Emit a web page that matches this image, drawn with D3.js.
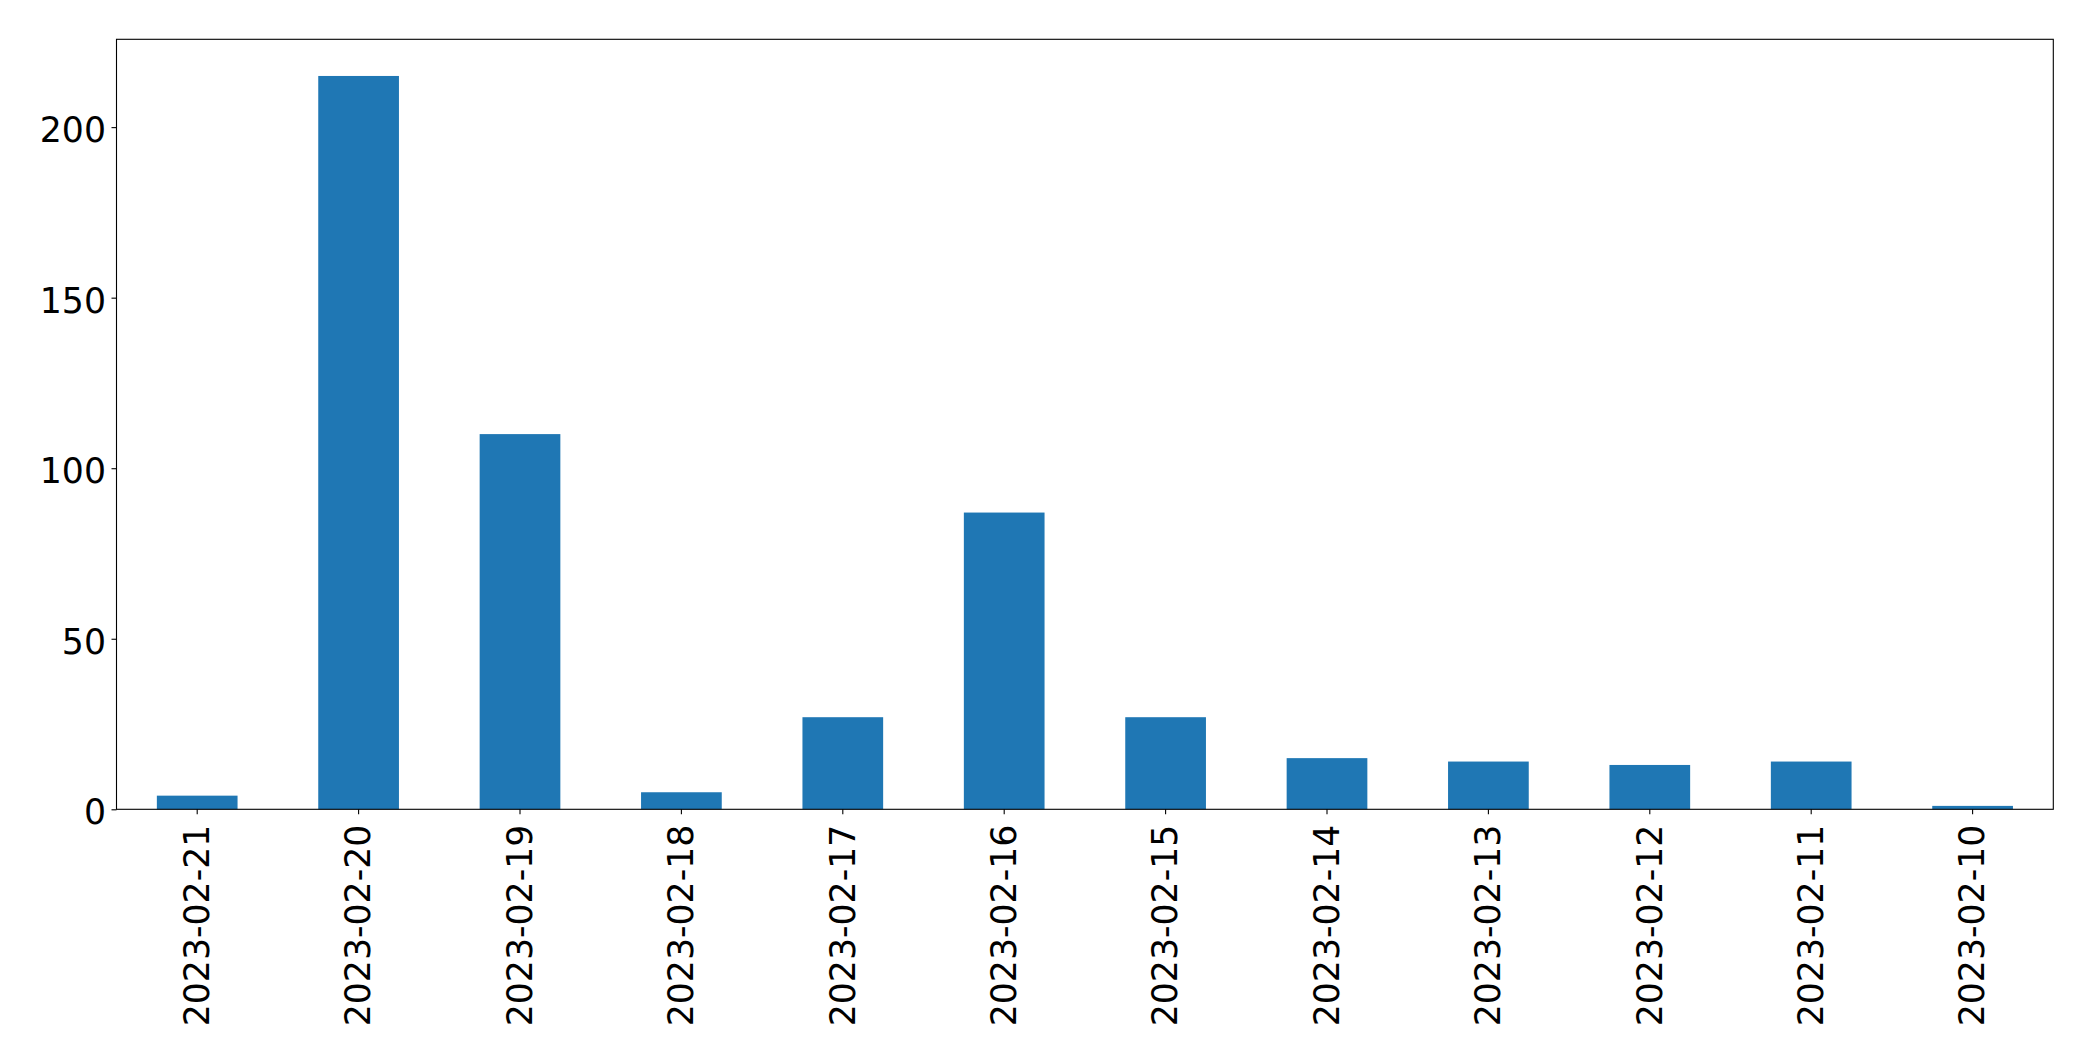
<!DOCTYPE html>
<html>
<head>
<meta charset="utf-8">
<script src="https://cdn.jsdelivr.net/npm/d3@7"></script>
<style>
html,body{margin:0;padding:0;background:#fff;}
svg{display:block;}
text{font-family:"DejaVu Sans",sans-serif;fill:#000;}
</style>
</head>
<body>
<svg id="chart" width="2093" height="1061"></svg>
<script>
const categories = ["2023-02-21","2023-02-20","2023-02-19","2023-02-18","2023-02-17","2023-02-16","2023-02-15","2023-02-14","2023-02-13","2023-02-12","2023-02-11","2023-02-10"];
const values = [4, 215, 110, 5, 27, 87, 27, 15, 14, 13, 14, 1];
const yTicks = [0, 50, 100, 150, 200];

const W = 2093, H = 1061;
const m = {left: 116.5, top: 39.3, right: W - 2053.3, bottom: H - 809.3};
const iw = W - m.left - m.right, ih = H - m.top - m.bottom;
const fs = 34.7;

const svg = d3.select("#chart");
const g = svg.append("g").attr("transform", `translate(${m.left},${m.top})`);

const x = d3.scaleBand().domain(categories).range([0, iw]).paddingInner(0.5).paddingOuter(0.25);
const y = d3.scaleLinear().domain([0, d3.max(values) * 1.05]).range([ih, 0]);

g.selectAll("rect.bar").data(values).join("rect")
  .attr("class", "bar")
  .attr("x", (d, i) => x(categories[i]))
  .attr("width", x.bandwidth())
  .attr("y", d => y(d))
  .attr("height", d => y(0) - y(d))
  .attr("fill", "#1f77b4");

const xAxis = g.append("g").attr("transform", `translate(0,${ih})`)
  .call(d3.axisBottom(x).tickSize(5).tickPadding(5));
xAxis.select(".domain").remove();
xAxis.selectAll(".tick line").attr("stroke", "#000").attr("stroke-width", 1.1);
xAxis.selectAll(".tick text")
  .attr("font-size", fs)
  .attr("font-family", "DejaVu Sans")
  .attr("text-anchor", "end")
  .attr("transform", "rotate(-90)")
  .attr("x", -15.4)
  .attr("y", 0)
  .attr("dy", "0.34em");

const yAxis = g.append("g")
  .call(d3.axisLeft(y).tickValues(yTicks).tickSize(5).tickPadding(5));
yAxis.select(".domain").remove();
yAxis.selectAll(".tick line").attr("stroke", "#000").attr("stroke-width", 1.1);
yAxis.selectAll(".tick text")
  .attr("font-size", fs)
  .attr("font-family", "DejaVu Sans")
  .attr("x", -10.5)
  .attr("dy", "0.42em");

g.append("rect").attr("x", 0).attr("y", 0).attr("width", iw).attr("height", ih)
  .attr("fill", "none").attr("stroke", "#000").attr("stroke-width", 1.1);
</script>
</body>
</html>
